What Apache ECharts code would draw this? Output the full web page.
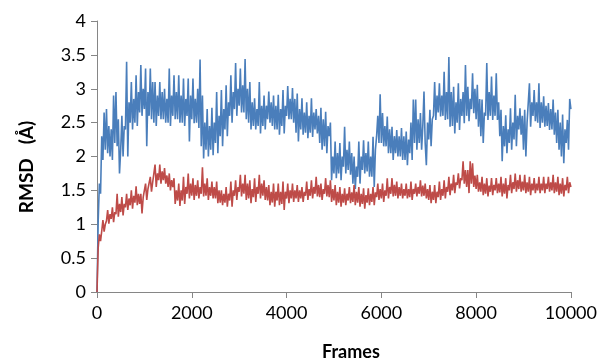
<!DOCTYPE html>
<html>
<head>
<meta charset="utf-8">
<script src="https://cdn.jsdelivr.net/npm/echarts@6/dist/echarts.min.js"></script>
<style>
html,body{margin:0;padding:0;background:#fff;}
#chart{width:600px;height:361px;}
</style>
</head>
<body>
<div id="chart"></div>
<script>
// Sample spacing of the traced values (frames)
const frameStep = 25;
const xTicks = [0, 2000, 4000, 6000, 8000, 10000];
const yTicks = [0, 0.5, 1, 1.5, 2, 2.5, 3, 3.5, 4];
const xTitle = 'Frames';
const yTitle = 'RMSD   (Å)';

// Blue trace (values every 25 frames)
const blueRMSD = [
0,1.05,1.6,1.45, 2.3,1.95,2.65,2.1, 2.7,2.05,2.45,2.0, 2.4,1.95,2.9,2.2, 2.95,2.15,2.55,1.75,
2.1,2.6,2.0,2.45, 2.4,3.4,2.0,2.8, 2.5,3.1,2.4,2.85, 2.5,3.2,2.45,2.95, 2.65,3.35,2.6,3.0,
2.7,3.3,2.15,2.95, 2.6,3.3,2.55,3.1, 2.5,3.1,2.45,2.9, 2.6,3.1,2.55,2.95, 2.55,3.0,2.5,2.85,
2.5,3.3,2.45,2.9, 2.6,3.2,2.55,2.95, 2.55,3.2,2.5,2.9, 2.5,3.15,2.45,2.85, 2.6,3.15,2.22,2.9,
2.55,3.15,2.49,2.85, 2.5,3.0,2.42,3.43, 2.15,2.9,1.97,2.5, 2.1,2.7,2.0,2.45, 2.1,2.72,2.02,2.5,
2.2,2.95,2.05,2.6, 2.3,2.98,2.15,2.7, 2.4,3.05,2.3,2.8, 2.6,3.2,2.5,2.95, 2.7,3.38,2.6,3.0,
2.75,3.3,2.65,3.05, 2.65,3.44,2.55,3.0, 2.5,3.1,2.4,2.8, 2.45,2.86,2.4,2.7, 2.45,3.1,2.34,2.75,
2.45,2.9,2.4,2.75, 2.55,2.96,2.5,2.8, 2.45,2.9,2.4,2.75, 2.4,2.91,2.32,2.7, 2.45,2.98,2.34,2.75,
2.6,3.04,2.55,2.85, 2.55,3.01,2.5,2.85, 2.35,2.93,2.22,2.7, 2.4,2.86,2.32,2.65, 2.35,2.8,2.27,2.6,
2.35,2.86,2.29,2.65, 2.4,2.7,2.34,2.6, 2.2,2.72,2.1,2.55, 2.15,2.66,2.05,2.45, 2.3,2.5,1.65,2.0,
1.75,2.22,1.68,2.05, 1.75,2.2,1.65,2.0, 1.85,2.44,1.75,2.1, 1.8,2.22,1.73,2.05, 1.6,2.0,1.52,1.85,
1.7,2.22,1.6,2.0, 1.8,2.24,1.75,2.05, 1.78,2.22,1.7,2.0, 1.7,2.29,1.55,2.1, 2.3,2.6,2.2,2.92,
2.2,2.64,2.15,2.45, 2.15,2.59,2.05,2.4, 2.05,2.44,1.95,2.3, 2.05,2.39,2.0,2.3, 2.0,2.42,1.95,2.3,
1.95,2.37,1.87,2.25, 2.05,2.5,1.95,2.84, 2.2,2.84,2.1,2.55, 2.2,2.64,2.1,2.45, 2.96,2.2,1.87,2.5,
2.25,2.69,2.15,2.55, 2.6,3.1,2.54,2.9, 2.65,3.08,2.59,2.9, 2.6,3.25,2.54,2.95, 2.55,3.47,2.44,2.95,
2.45,3.03,2.34,2.8, 2.5,3.08,2.39,2.85, 2.6,2.95,2.49,3.35, 2.6,3.03,2.52,2.85, 2.7,3.23,2.64,3.0,
2.55,3.06,2.44,2.85, 2.3,2.84,2.2,2.65, 2.6,3.38,2.54,2.95, 2.6,3.18,2.54,2.9, 2.6,3.23,2.54,2.8,
2.3,2.69,1.93,2.45, 2.15,2.61,2.05,2.4, 2.2,2.71,2.1,2.5, 2.25,2.91,2.15,2.6, 2.4,2.71,2.32,2.6,
2.1,2.69,2.0,2.5, 2.5,3.08,2.44,2.8, 2.6,2.98,2.52,2.8, 2.5,3.08,2.42,2.8, 2.5,2.89,2.44,2.75,
2.45,2.79,2.39,2.7, 2.4,2.84,2.32,2.65, 2.2,2.69,2.1,2.5, 2.0,2.62,1.9,2.4, 2.2,2.54,2.1,2.85,
2.7
];

// Red trace (values every 25 frames)
const redRMSD = [
0,0.65,0.85,0.75, 0.9,1.06,0.89,1.0, 1.05,1.21,1.01,1.15, 1.08,1.25,1.03,1.18, 1.15,1.45,1.11,1.3,
1.18,1.4,1.13,1.3, 1.25,1.45,1.21,1.38, 1.28,1.5,1.23,1.42, 1.32,1.56,1.28,1.45, 1.3,1.45,1.16,1.4,
1.4,1.6,1.36,1.52, 1.52,1.7,1.48,1.62, 1.6,1.88,1.55,1.75, 1.65,1.88,1.6,1.78, 1.65,1.83,1.6,1.72,
1.55,1.75,1.5,1.65, 1.55,1.68,1.3,1.5, 1.35,1.6,1.27,1.5, 1.35,1.7,1.3,1.55, 1.45,1.75,1.38,1.6,
1.42,1.68,1.36,1.58, 1.42,1.65,1.38,1.55, 1.45,1.84,1.41,1.6, 1.42,1.68,1.36,1.55, 1.42,1.63,1.38,1.55,
1.38,1.63,1.31,1.5, 1.32,1.5,1.28,1.45, 1.32,1.55,1.26,1.45, 1.35,1.63,1.26,1.5, 1.42,1.65,1.36,1.55,
1.48,1.73,1.41,1.6, 1.45,1.73,1.36,1.6, 1.38,1.65,1.31,1.52, 1.4,1.68,1.33,1.55, 1.45,1.73,1.38,1.6,
1.42,1.65,1.36,1.55, 1.35,1.58,1.28,1.48, 1.32,1.6,1.26,1.48, 1.35,1.6,1.28,1.48, 1.3,1.63,1.21,1.48,
1.38,1.6,1.31,1.5, 1.38,1.6,1.33,1.5, 1.38,1.58,1.33,1.5, 1.38,1.55,1.33,1.48, 1.42,1.63,1.36,1.52,
1.42,1.65,1.38,1.55, 1.45,1.7,1.41,1.58, 1.4,1.6,1.36,1.52, 1.45,1.68,1.41,1.58, 1.4,1.65,1.33,1.52,
1.35,1.58,1.28,1.48, 1.32,1.55,1.26,1.45, 1.32,1.53,1.28,1.45, 1.35,1.55,1.31,1.47, 1.33,1.58,1.28,1.48,
1.32,1.55,1.26,1.45, 1.3,1.53,1.23,1.43, 1.32,1.53,1.28,1.45, 1.33,1.55,1.28,1.47, 1.4,1.6,1.36,1.52,
1.38,1.6,1.33,1.5, 1.42,1.68,1.38,1.55, 1.45,1.68,1.41,1.58, 1.42,1.63,1.38,1.55, 1.42,1.6,1.38,1.52,
1.42,1.6,1.38,1.52, 1.4,1.63,1.36,1.52, 1.45,1.6,1.41,1.55, 1.45,1.65,1.41,1.57, 1.42,1.6,1.38,1.52,
1.36,1.58,1.31,1.48, 1.36,1.58,1.31,1.48, 1.4,1.63,1.36,1.52, 1.42,1.65,1.38,1.55, 1.48,1.7,1.43,1.6,
1.5,1.73,1.46,1.62, 1.58,1.75,1.53,1.68, 1.65,1.93,1.6,1.8, 1.55,1.8,1.46,1.93, 1.6,1.9,1.55,1.72,
1.52,1.73,1.48,1.62, 1.48,1.7,1.43,1.6, 1.45,1.68,1.41,1.57, 1.48,1.68,1.43,1.58, 1.5,1.68,1.46,1.6,
1.47,1.7,1.41,1.6, 1.45,1.68,1.38,1.58, 1.5,1.73,1.46,1.62, 1.52,1.75,1.48,1.65, 1.52,1.73,1.48,1.63,
1.5,1.73,1.46,1.62, 1.48,1.7,1.43,1.6, 1.5,1.68,1.46,1.6, 1.5,1.7,1.46,1.6, 1.5,1.7,1.46,1.6,
1.52,1.7,1.48,1.62, 1.5,1.73,1.46,1.62, 1.48,1.7,1.43,1.6, 1.45,1.68,1.41,1.58, 1.5,1.7,1.46,1.62,
1.55
];

const toPairs = arr => arr.map((v, i) => [i * frameStep, v]);

const FONT = 'Lato, "Open Sans", sans-serif';
const chart = echarts.init(document.getElementById('chart'), null, {renderer: 'canvas'});
chart.setOption({
  animation: false,
  backgroundColor: '#ffffff',
  grid: {left: 97, right: 28, top: 21, bottom: 69, containLabel: false},
  xAxis: {
    type: 'value',
    min: xTicks[0], max: xTicks[xTicks.length - 1], interval: 2000,
    axisLine: {show: true, lineStyle: {color: '#868686', width: 1}},
    axisTick: {show: true, length: 6, lineStyle: {color: '#868686'}},
    splitLine: {show: false},
    axisLabel: {color: '#000', fontFamily: FONT, fontSize: 18, margin: 12,
      formatter: v => String(v)}
  },
  yAxis: {
    type: 'value',
    min: yTicks[0], max: yTicks[yTicks.length - 1], interval: 0.5,
    axisLine: {show: true, lineStyle: {color: '#868686', width: 1}},
    axisTick: {show: true, length: 6, lineStyle: {color: '#868686'}},
    splitLine: {show: false},
    axisLabel: {color: '#000', fontFamily: FONT, fontSize: 18, margin: 11,
      formatter: v => String(v)}
  },
  graphic: [
    {type: 'text', left: 352 - 30, top: 343,
     style: {text: xTitle, fill: '#000', font: 'bold 18px ' + FONT}},
    {type: 'text', x: 27, y: 167, rotation: Math.PI / 2,
     style: {text: yTitle, fill: '#000', font: 'bold 19px ' + FONT, align: 'center', verticalAlign: 'middle'}}
  ],
  series: [
    {type: 'line', data: toPairs(blueRMSD), showSymbol: false, symbol: 'none', sampling: null,
     lineStyle: {color: '#4A7EBB', width: 1.6}, itemStyle: {color: '#4A7EBB'}, z: 2},
    {type: 'line', data: toPairs(redRMSD), showSymbol: false, symbol: 'none', sampling: null,
     lineStyle: {color: '#BE4B48', width: 1.6}, itemStyle: {color: '#BE4B48'}, z: 3}
  ]
});
</script>
</body>
</html>
